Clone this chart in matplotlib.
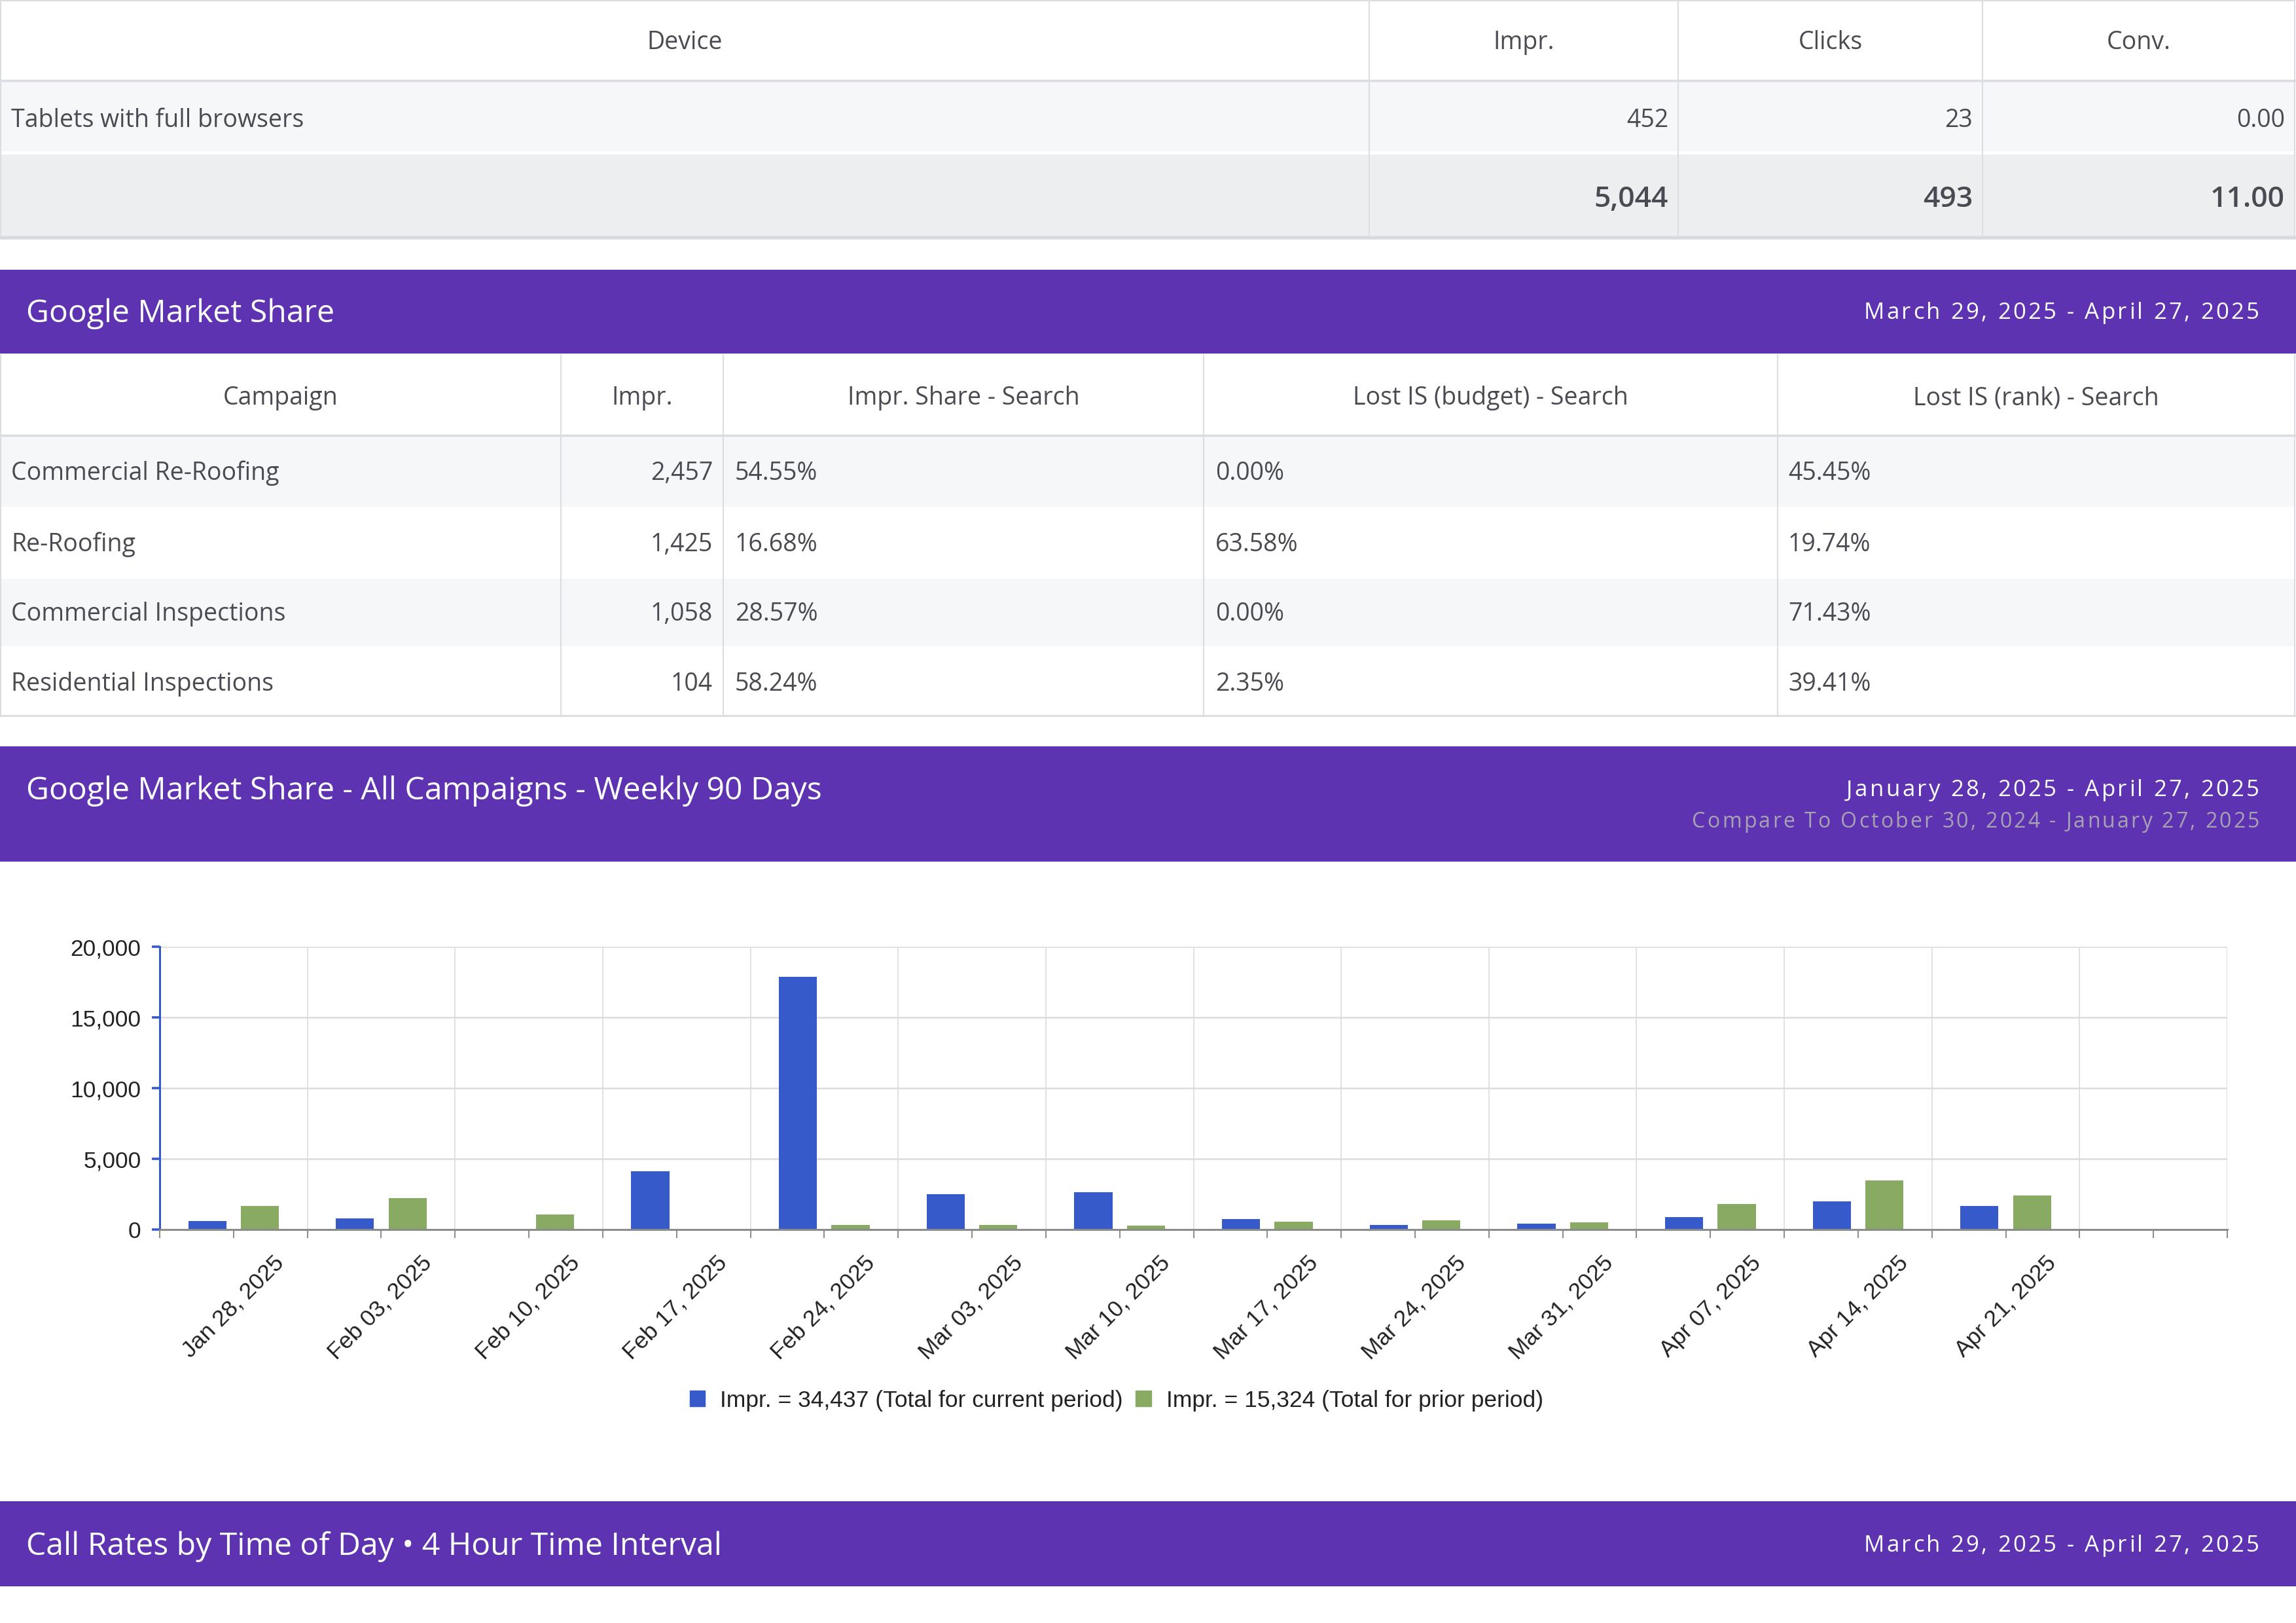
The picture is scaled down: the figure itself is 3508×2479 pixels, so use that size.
import matplotlib.pyplot as plt
from matplotlib.patches import Rectangle, Patch
from matplotlib.transforms import ScaledTranslation
from matplotlib.ticker import FuncFormatter
from matplotlib.font_manager import FontProperties

# ---------------- data ----------------
device_cols = ["Device", "Impr.", "Clicks", "Conv."]
device_row = ["Tablets with full browsers", "452", "23", "0.00"]
device_total = ["", "5,044", "493", "11.00"]

share_cols = ["Campaign", "Impr.", "Impr. Share - Search",
              "Lost IS (budget) - Search", "Lost IS (rank) - Search"]
campaigns = ["Commercial Re-Roofing", "Re-Roofing",
             "Commercial Inspections", "Residential Inspections"]
campaign_impr = ["2,457", "1,425", "1,058", "104"]
impr_share = ["54.55%", "16.68%", "28.57%", "58.24%"]
lost_budget = ["0.00%", "63.58%", "0.00%", "2.35%"]
lost_rank = ["45.45%", "19.74%", "71.43%", "39.41%"]

weeks = ["Jan 28, 2025", "Feb 03, 2025", "Feb 10, 2025", "Feb 17, 2025",
         "Feb 24, 2025", "Mar 03, 2025", "Mar 10, 2025", "Mar 17, 2025",
         "Mar 24, 2025", "Mar 31, 2025", "Apr 07, 2025", "Apr 14, 2025",
         "Apr 21, 2025"]
impr_current = [580, 810, 0, 4120, 17850, 2500, 2640, 726, 320, 401, 860, 1980, 1650]
impr_prior = [1670, 2225, 1080, 40, 340, 320, 280, 550, 640, 510, 1810, 3460, 2390]
total_current = "34,437"
total_prior = "15,324"

PURPLE = "#5e33b2"
BLUE = "#365ac9"
GREEN = "#88aa63"
TXT = "#4a4b52"
LINE = "#dcdde2"

plt.rcParams['font.family'] = ['Liberation Sans', 'DejaVu Sans']

fig = plt.figure(figsize=(35.08, 24.79), dpi=100)
bg = fig.add_axes([0, 0, 1, 1])
bg.set_xlim(0, 3508)
bg.set_ylim(2479, 0)
bg.axis('off')
renderer = fig.canvas.get_renderer()


def put(x, yc, s, size=27, ha='left', color=TXT, weight='normal'):
    # yc is the centre of the capital letters, in pixels
    px = size * 100 / 72
    bg.text(x, yc + 0.357 * px, s, fontsize=size, ha=ha, va='baseline',
            color=color, fontweight=weight, family='Open Sans')


def spaced(x_right, yc, s, size, color, track):
    # right aligned text with letter spacing
    fp = FontProperties(family='Open Sans', size=size)
    w = lambda t: renderer.get_text_width_height_descent(t, fp, ismath=False)[0]
    total = w(s) + track * (len(s) - 1)
    x0 = x_right - total
    base = yc + 0.357 * size * 100 / 72
    for k, ch in enumerate(s):
        if ch == ' ':
            continue
        pos = w(s[:k + 1]) - w(ch)
        bg.text(x0 + pos + track * k, base, ch, fontproperties=fp,
                color=color, ha='left', va='baseline')


def box(x0, y0, x1, y1, color):
    bg.add_patch(Rectangle((x0, y0), x1 - x0, y1 - y0, color=color, lw=0))


def band(y0, y1, title, yc, date, compare=None):
    box(0, y0, 3508, y1, PURPLE)
    put(40, yc, title, size=34.7, color='white')
    spaced(3452, yc, date, 25, 'white', 3.5)
    if compare:
        spaced(3452, yc + 49, compare, 23, '#a8a3b3', 3.2)


# ---------------- device table ----------------
dev_edges = [0, 2092, 2564, 3029, 3506]
box(0, 124, 3506, 231, "#f6f7f9")
box(0, 236, 3506, 360, "#edeef0")
bg.plot([0, 3506], [122.5, 122.5], color=LINE, lw=2.5)
bg.plot([0, 3506], [363, 363], color="#d8d9df", lw=4)
bg.plot([0, 3506], [1, 1], color=LINE, lw=1.5)
for x in dev_edges:
    xx = 1 if x == 0 else x
    bg.plot([xx, xx], [0, 362], color=LINE, lw=1.5)
for i, c in enumerate(device_cols):
    put((dev_edges[i] + dev_edges[i + 1]) / 2, 62, c, ha='center')
put(17, 181, device_row[0])
for i in range(1, 4):
    put(dev_edges[i + 1] - 15, 181, device_row[i], ha='right')
    put(dev_edges[i + 1] - 15, 300, device_total[i], size=32, ha='right', weight='semibold')

# ---------------- market share table ----------------
band(412, 540, "Google Market Share", 475, "March 29, 2025 - April 27, 2025")

sh_edges = [0, 857, 1105, 1839, 2716, 3506]
row_edges = [664, 774, 881, 987, 1094]
for r in range(4):
    if r % 2 == 0:
        box(0, row_edges[r] + 3, 3506, row_edges[r + 1], "#f6f7f9")
bg.plot([0, 3506], [665, 665], color=LINE, lw=2.5)
bg.plot([0, 3506], [1093, 1093], color=LINE, lw=2)
for x in sh_edges:
    xx = 1 if x == 0 else x
    bg.plot([xx, xx], [542, 1094], color=LINE, lw=1.5)
for i, c in enumerate(share_cols):
    put((sh_edges[i] + sh_edges[i + 1]) / 2, 605, c, ha='center')
for r in range(4):
    yc = (row_edges[r] + row_edges[r + 1]) / 2 + 1
    put(17, yc, campaigns[r])
    put(1089, yc, campaign_impr[r], ha='right')
    put(1123, yc, impr_share[r])
    put(1857, yc, lost_budget[r])
    put(2732, yc, lost_rank[r])

# ---------------- weekly chart ----------------
band(1140, 1316, "Google Market Share - All Campaigns - Weekly 90 Days", 1204,
     "January 28, 2025 - April 27, 2025",
     "Compare To October 30, 2024 - January 27, 2025")

ax = fig.add_axes([244 / 3508, 1 - 1878 / 2479, (3403 - 244) / 3508, (1878 - 1446) / 2479])
ax.patch.set_alpha(0)
xs = list(range(len(weeks)))
ax.bar([x - 0.178 for x in xs], impr_current, width=0.258, color=BLUE, zorder=3)
ax.bar([x + 0.178 for x in xs], impr_prior, width=0.258, color=GREEN, zorder=3)
ax.set_xlim(-0.5, 13.5)
ax.set_ylim(0, 20000)
ax.set_yticks([0, 5000, 10000, 15000, 20000])
ax.yaxis.set_major_formatter(FuncFormatter(lambda v, p: f"{int(v):,}"))
ax.set_xticks(range(14))
ax.set_xticklabels(weeks + [""])
ax.set_xticks([i - 0.5 for i in range(15)], minor=True)
ax.set_axisbelow(True)
ax.grid(axis='y', which='major', color='#dcdce0', lw=1.8)
ax.grid(axis='x', which='minor', color='#dedee3', lw=1.3)
for s in ['top', 'right']:
    ax.spines[s].set_visible(False)
ax.spines['left'].set_color(BLUE)
ax.spines['left'].set_linewidth(2.2)
ax.spines['bottom'].set_color('#8c8c8c')
ax.spines['bottom'].set_linewidth(2.2)
ax.spines['bottom'].set_zorder(4)
ax.tick_params(axis='x', which='both', direction='out', length=9.4, width=1.5,
               color='#8f8f8f', pad=0, labelsize=25.5, labelcolor='#222222')
ax.tick_params(axis='y', direction='out', length=8.6, width=2.6, color=BLUE,
               pad=12, labelsize=25.5, labelcolor='#222222')
shift = ScaledTranslation(0.72, -0.33, fig.dpi_scale_trans)
for lbl in ax.get_xticklabels():
    lbl.set_rotation(45)
    lbl.set_rotation_mode('anchor')
    lbl.set_ha('right')
    lbl.set_va('center')
    lbl.set_transform(lbl.get_transform() + shift)

handles = [Patch(color=BLUE, label=f"Impr. = {total_current} (Total for current period)"),
           Patch(color=GREEN, label=f"Impr. = {total_prior} (Total for prior period)")]
fig.legend(handles=handles, loc='center', bbox_to_anchor=(1706 / 3508, 1 - 2139 / 2479),
           ncol=2, frameon=False, fontsize=25.5, labelcolor='#222222',
           handlelength=0.65, handleheight=0.68, handletextpad=0.65,
           columnspacing=0.55, borderpad=0)

# ---------------- call rates header ----------------
band(2293, 2423, "Call Rates by Time of Day \u2022 4 Hour Time Interval", 2358,
     "March 29, 2025 - April 27, 2025")

fig.savefig("out.png", dpi=100, facecolor='white')
